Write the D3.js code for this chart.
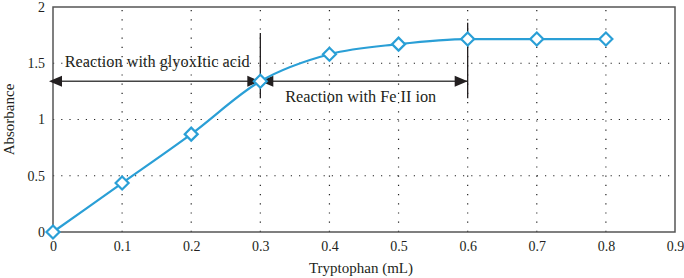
<!DOCTYPE html>
<html><head><meta charset="utf-8">
<script src="https://cdn.jsdelivr.net/npm/d3@7"></script>
<style>body{margin:0;background:#fff}svg{display:block}text{font-family:"Liberation Serif","DejaVu Serif",serif;fill:#231f20}</style>
</head><body><div id="c"></div>
<script>
const xValues = [0, 0.1, 0.2, 0.3, 0.4, 0.5, 0.6, 0.7, 0.8];
const absorbance = [0, 0.435, 0.87, 1.34, 1.58, 1.67, 1.715, 1.715, 1.715];
const xTicks = [0, 0.1, 0.2, 0.3, 0.4, 0.5, 0.6, 0.7, 0.8, 0.9];
const yTicks = [0, 0.5, 1, 1.5, 2];
const annotations = [
  {label: "Reaction with glyoxItic acid", from: 0, to: 0.3, y: 1.34, textX: 0.017, textY: 1.467, barTop: 1.77},
  {label: "Reaction with Fe II ion", from: 0.3, to: 0.6, y: 1.34, textX: 0.336, textY: 1.16, barTop: 1.86}
];
const barBottom = 1.19;

const W = 684, H = 278;
const m = {l: 53, r: 9, t: 7, b: 46};
const svg = d3.select("#c").append("svg").attr("width", W).attr("height", H);
const x = d3.scaleLinear().domain([0, 0.9]).range([m.l, W - m.r]);
const y = d3.scaleLinear().domain([0, 2]).range([H - m.b, m.t]);

// grid
const g = svg.append("g");
g.selectAll(".gx").data(xTicks.slice(1, -1)).join("line")
  .attr("x1", d => x(d)).attr("x2", d => x(d)).attr("y1", y(0)).attr("y2", y(2))
  .attr("stroke", "#222").attr("stroke-width", 1.2).attr("stroke-dasharray", "1.2,8");
g.selectAll(".gy").data(yTicks.slice(1, -1)).join("line")
  .attr("y1", d => y(d)).attr("y2", d => y(d)).attr("x1", x(0)).attr("x2", x(0.9))
  .attr("stroke", "#222").attr("stroke-width", 1.2).attr("stroke-dasharray", "1.2,7");

// frame
svg.append("rect").attr("x", x(0)).attr("y", y(2)).attr("width", x(0.9) - x(0)).attr("height", y(0) - y(2))
  .attr("fill", "none").attr("stroke", "#555").attr("stroke-width", 1.5);

// axes
const xa = svg.append("g").attr("transform", `translate(0,${y(0)})`)
  .call(d3.axisBottom(x).tickValues(xTicks).tickSize(0).tickPadding(9).tickFormat(d => d === 0 ? "0" : d3.format(".1f")(d)))
  .attr("font-size", 14).attr("font-family", "Liberation Serif, serif");
xa.select(".domain").remove();
xa.selectAll("text").attr("fill", "#231f20");
const ya = svg.append("g").attr("transform", `translate(${x(0)},0)`)
  .call(d3.axisLeft(y).tickValues(yTicks).tickSize(0).tickPadding(8).tickFormat(d => d3.format("")(d)))
  .attr("font-size", 14).attr("font-family", "Liberation Serif, serif");
ya.select(".domain").remove();
ya.selectAll("text").attr("fill", "#231f20");

svg.append("text").attr("x", (x(0) + x(0.9)) / 2 - 3).attr("y", 273).attr("text-anchor", "middle").attr("font-size", 15).text("Tryptophan (mL)");
svg.append("text").attr("transform", `translate(14,${(y(0) + y(2)) / 2}) rotate(-90)`).attr("text-anchor", "middle").attr("font-size", 15).text("Absorbance");

// annotations
const ag = svg.append("g");
annotations.forEach(a => {
  ag.append("line").attr("x1", x(a.from)).attr("x2", x(a.to)).attr("y1", y(a.y)).attr("y2", y(a.y))
    .attr("stroke", "#444").attr("stroke-width", 1.3);
  const head = (tipX, dir) => {
    const py = y(a.y);
    ag.append("path").attr("d", `M${tipX},${py} L${tipX + dir * 13},${py - 5.5} L${tipX + dir * 13},${py + 5.5} Z`).attr("fill", "#231f20");
  };
  head(x(a.from) - (a.from === 0 ? 4 : 0), 1);
  head(x(a.to), -1);
  ag.append("line").attr("x1", x(a.to)).attr("x2", x(a.to)).attr("y1", y(a.barTop)).attr("y2", y(barBottom))
    .attr("stroke", "#231f20").attr("stroke-width", 1.3);
  ag.append("text").attr("x", x(a.textX)).attr("y", y(a.textY)).attr("font-size", 16.3).text(a.label);
});

// series
const pts = xValues.map((v, i) => [v, absorbance[i]]);
svg.append("path").datum(pts).attr("fill", "none").attr("stroke", "#2a9fd6").attr("stroke-width", 2.2)
  .attr("d", d3.line().x(d => x(d[0])).y(d => y(d[1])).curve(d3.curveMonotoneX));
svg.selectAll(".mk").data(pts).join("path")
  .attr("transform", d => `translate(${x(d[0])},${y(d[1])})`)
  .attr("d", "M0,-6.5 L6.5,0 L0,6.5 L-6.5,0 Z")
  .attr("fill", "#fff").attr("stroke", "#2a9fd6").attr("stroke-width", 2.2);
</script></body></html>
